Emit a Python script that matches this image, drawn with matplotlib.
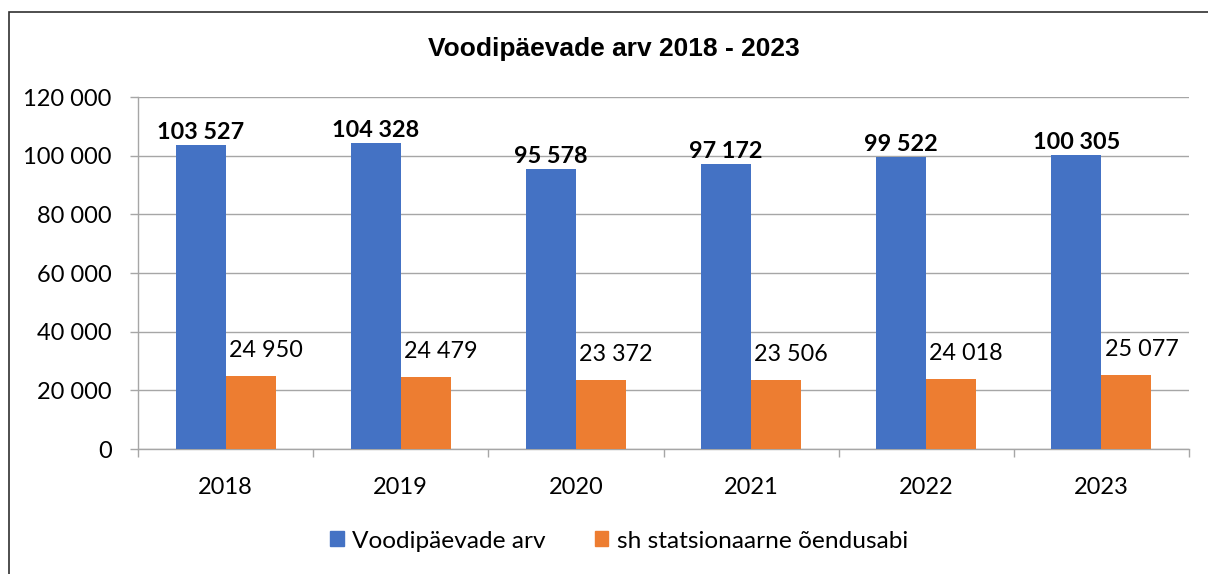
import numpy as np
import matplotlib
matplotlib.use("Agg")
import matplotlib.pyplot as plt
from matplotlib.patches import Rectangle, Patch

# --- andmed ---
aastad = ["2018", "2019", "2020", "2021", "2022", "2023"]
voodipaevad = [103527, 104328, 95578, 97172, 99522, 100305]
oendusabi = [24950, 24479, 23372, 23506, 24018, 25077]
y_ticks = [0, 20000, 40000, 60000, 80000, 100000, 120000]

pealkiri = "Voodipäevade arv 2018 - 2023"
legend_labels = ["Voodipäevade arv", "sh statsionaarne õendusabi"]

BLUE = "#4472C4"
ORANGE = "#ED7D31"
GRID = "#a6a6a6"


def fmt(v):
    return f"{int(v):,}".replace(",", " ")


plt.rcParams["font.family"] = ["Lato", "DejaVu Sans"]

W, H = 1208, 574
fig = plt.figure(figsize=(W / 100, H / 100), dpi=100)

# raam ümber diagrammi
fig.patches.append(Rectangle((9 / W, -0.05), 1.1, 1 - 12 / H + 0.05,
                             transform=fig.transFigure, fill=False,
                             edgecolor="#303030", linewidth=1.2))

ax = fig.add_axes([138 / W, 1 - 449 / H, (1189 - 138) / W, (449 - 97) / H])

x = np.arange(len(aastad))
bw = 0.285
b1 = ax.bar(x - bw / 2, voodipaevad, bw, color=BLUE, zorder=3)
b2 = ax.bar(x + bw / 2, oendusabi, bw, color=ORANGE, zorder=3)

for rect, v in zip(b1, voodipaevad):
    ax.annotate(fmt(v), (rect.get_x() + rect.get_width() / 2, v),
                xytext=(0, 6), textcoords="offset pixels",
                ha="center", va="baseline", fontsize=16.8, fontweight="bold")
for rect, v in zip(b2, oendusabi):
    ax.annotate(fmt(v), (rect.get_x() + rect.get_width() / 2, v),
                xytext=(15, 19), textcoords="offset pixels",
                ha="center", va="baseline", fontsize=16.8)

ax.set_xlim(-0.5, len(aastad) - 0.5)
ax.set_ylim(0, 120000)
ax.set_yticks(y_ticks)
ax.set_yticklabels([fmt(v) for v in y_ticks])
ax.set_xticks(x)
ax.set_xticklabels(aastad)
ax.set_xticks(np.arange(len(aastad) + 1) - 0.5, minor=True)

ax.tick_params(axis="x", which="major", length=0, pad=20, labelsize=17)
ax.tick_params(axis="x", which="minor", length=6, width=1, color=GRID)
ax.tick_params(axis="y", length=6, width=1, color=GRID, pad=13, labelsize=17)

ax.grid(axis="y", color=GRID, linewidth=1, zorder=0)
for s in ["top", "right"]:
    ax.spines[s].set_visible(False)
for s in ["left", "bottom"]:
    ax.spines[s].set_color(GRID)
    ax.spines[s].set_linewidth(1)

fig.text(614 / W, 1 - 49 / H, pealkiri, ha="center", va="center",
         fontsize=19, fontweight="bold", family=["Liberation Sans", "DejaVu Sans"])

handles = [Patch(color=BLUE), Patch(color=ORANGE)]
fig.legend(handles, legend_labels, loc="center", ncol=2,
           bbox_to_anchor=(619 / W, 1 - 541 / H), frameon=False,
           fontsize=17.6, handlelength=0.55, handleheight=0.55,
           handletextpad=0.35, columnspacing=2.0)

fig.savefig("out.png", dpi=100)
